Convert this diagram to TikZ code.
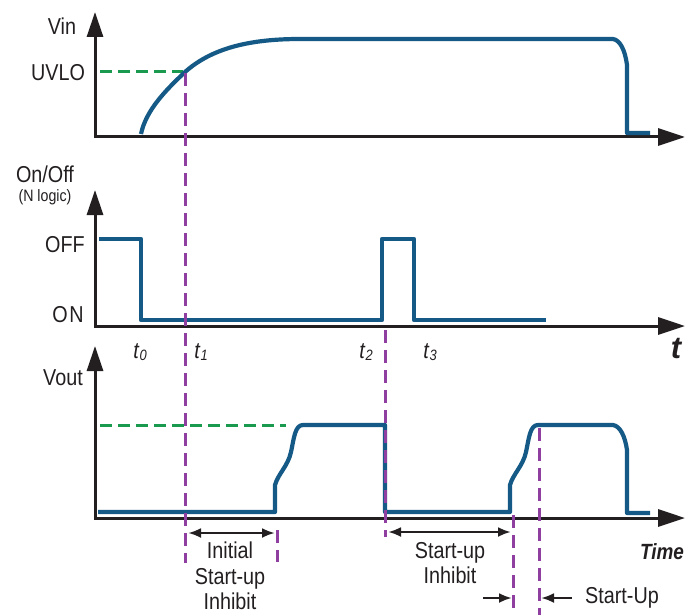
\documentclass[tikz,border=0pt]{standalone}
\usepackage{fontspec}
\setmainfont{Liberation Sans}
\newfontfamily\condfont[FakeStretch=0.86]{Liberation Sans}
\usetikzlibrary{arrows.meta}
\definecolor{sigblue}{HTML}{155A86}
\definecolor{dgreen}{HTML}{1A9A4E}
\definecolor{dpurple}{HTML}{8E3FA0}
\definecolor{axisk}{HTML}{231F20}
\newcommand{\tsub}[1]{\textit{t}{\fontsize{15}{15}\selectfont\raisebox{-2pt}{\textit{#1}}}}
\tikzset{
  axisline/.style={line width=3pt, draw=axisk, {Triangle[length=25pt,width=16pt]}-{Triangle[length=27pt,width=17pt]}},
  sig/.style={line width=4.2pt, draw=sigblue, line join=round},
  gdash/.style={line width=3pt, draw=dgreen, dash pattern=on 12pt off 6pt},
  pdash/.style={line width=3pt, draw=dpurple, dash pattern=on 13pt off 7pt},
  dimarrow/.style={line width=2.6pt, draw=axisk, {Latex[length=13pt,width=10pt]}-{Latex[length=13pt,width=10pt]}},
  onearrow/.style={line width=2.6pt, draw=axisk, -{Latex[length=13pt,width=10pt]}},
  lbl/.style={font=\condfont\fontsize{23}{25.5}\selectfont, inner sep=0pt, text=axisk},
  small/.style={font=\condfont\fontsize{16.5}{18}\selectfont, inner sep=0pt, text=axisk},
  tl/.style={font=\condfont\fontsize{23}{24}\selectfont, inner sep=0pt, text=axisk}
}
\begin{document}
\begin{tikzpicture}[x=1pt,y=-1pt]
\useasboundingbox (0,0) rectangle (688,615);
% axes
\coordinate (a1top) at (95,12);  \coordinate (a1o) at (95,137); \coordinate (a1end) at (685,137);
\coordinate (a2top) at (95,190); \coordinate (a2o) at (95,326); \coordinate (a2end) at (685,326);
\coordinate (a3top) at (95,346); \coordinate (a3o) at (95,518); \coordinate (a3end) at (685,518);
\draw[axisline] (a1top) -- (a1o) -- (a1end);
\draw[axisline] (a2top) -- (a2o) -- (a2end);
\draw[axisline] (a3top) -- (a3o) -- (a3end);
% axis labels
\node[lbl] (vin) at (62,26) {Vin};
\node[lbl] (uvlo) at (58,73) {UVLO};
\node[lbl] (onoff) at (45,174) {On/Off};
\node[small] (nlogic) at (45,197) {(N logic)};
\node[lbl] (off) at (65,245) {OFF};
\node[lbl] (on) at (68,315) {O\kern1.5pt N};
\node[lbl] (vout) at (63,378) {Vout};
% time labels
\node[tl] (t0) at (140,352) {\tsub{0}};
\node[tl] (t1) at (201,352) {\tsub{1}};
\node[tl] (t2) at (366,352) {\tsub{2}};
\node[tl] (t3) at (430,352) {\tsub{3}};
\node[font=\fontsize{31}{31}\selectfont\bfseries\itshape, inner sep=0pt, text=axisk] (tbig) at (676,349) {t};
\node[font=\condfont\fontsize{22}{22}\selectfont\bfseries\itshape, inner sep=0pt, text=axisk] (time) at (662,552) {Time};
% green reference levels
\coordinate (g1a) at (100,72); \coordinate (g1b) at (183,72);
\draw[gdash] (g1a) -- (g1b);
\coordinate (g3a) at (100,425); \coordinate (g3b) at (286,425);
\draw[gdash] (g3a) -- (g3b);
% Vin
\draw[sig] (141,134) .. controls (146,110) and (166,90) .. (185,72)
  .. controls (212,48) and (250,39) .. (300,39) -- (613,39)
  .. controls (620,40) and (625,50) .. (627,65) -- (627,133) -- (650,133);
% On/Off
\draw[sig] (99,239) -- (141,239) -- (141,320) -- (382,320) -- (382,239) -- (414,239) -- (414,320) -- (546,320);
% Vout
\draw[sig] (98,512) -- (275,512) -- (275,485)
  .. controls (278,474) and (288,466) .. (291,452)
  .. controls (294,438) and (295,425) .. (303,425) -- (385,425) -- (385,512) -- (510,512) -- (510,485)
  .. controls (513,474) and (523,466) .. (526,452)
  .. controls (529,438) and (530,425) .. (538,425) -- (613,425)
  .. controls (620,426) and (625,436) .. (627,450) -- (627,513) -- (650,513);
% purple markers
\draw[pdash] (185,73) -- (185,563);
\draw[pdash] (385,330) -- (385,537);
\draw[pdash] (277,530) -- (277,562);
\draw[pdash] (513,515) -- (513,615);
\draw[pdash] (539,428) -- (539,615);
% dimension arrows
\coordinate (d1a) at (188,533); \coordinate (d1b) at (275,533);
\draw[dimarrow] (d1a) -- (d1b);
\coordinate (d2a) at (388,532); \coordinate (d2b) at (511,532);
\draw[dimarrow] (d2a) -- (d2b);
\coordinate (s1a) at (483,598); \coordinate (s1b) at (512,598);
\draw[onearrow] (s1a) -- (s1b);
\coordinate (s2a) at (572,598); \coordinate (s2b) at (541,598);
\draw[onearrow] (s2a) -- (s2b);
% annotations
\node[lbl, align=center] (inh1) at (230,576) {Initial\\Start-up\\Inhibit};
\node[lbl, align=center] (inh2) at (450,563) {Start-up\\Inhibit};
\node[lbl] (su) at (622,598) {Start-Up};
\end{tikzpicture}
\end{document}
